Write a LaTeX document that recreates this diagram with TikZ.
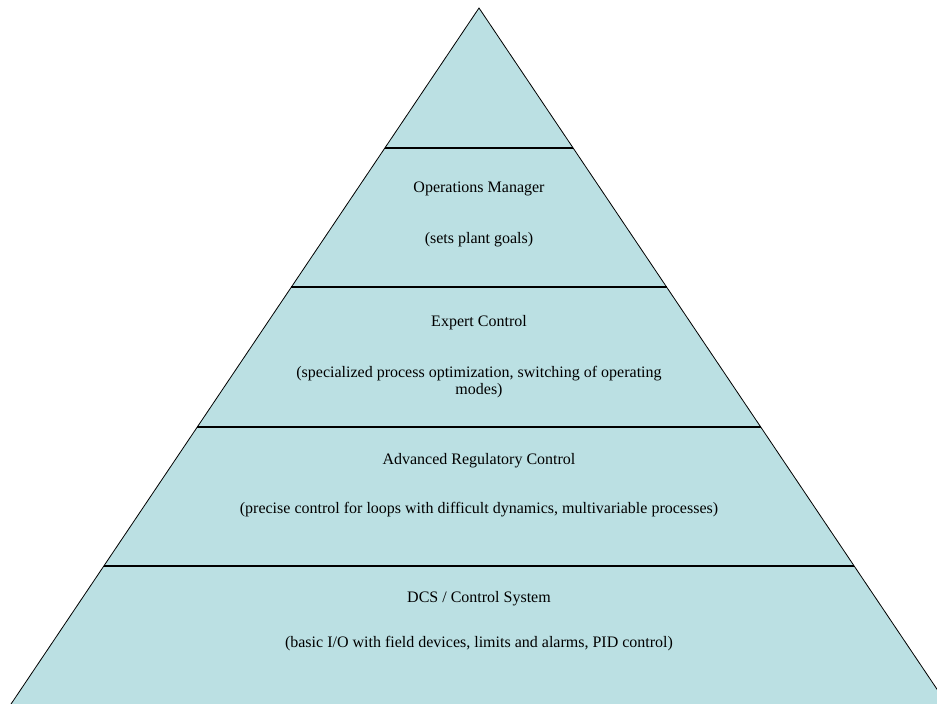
\documentclass[tikz,border=0pt]{standalone}
\usepackage{fontspec}
\setmainfont{Liberation Serif}
\usepackage{tikz}
\usetikzlibrary{calc}

\definecolor{layerfill}{RGB}{187,224,227}

\begin{document}
\begin{tikzpicture}[x=1pt, y=-1pt,
    every node/.style={font=\fontsize{16}{17}\selectfont, align=center, anchor=base}]
    \useasboundingbox (0, 0) rectangle (937, 704);
    \clip (0, 0) rectangle (937, 704);

    \coordinate (apex) at (479, 8);
    \coordinate (bl) at (9.7, 706);
    \coordinate (br) at (948.3, 706);
    \draw [fill=layerfill, line width=0.8pt] (apex) -- (bl) -- (br) -- cycle;

    % layer borders
    \foreach \t in {0.2, 0.4, 0.6, 0.8}
      \draw [line width=2pt] ($(apex)!\t!(bl)$) -- ($(apex)!\t!(br)$);

    \node (om) at (479, 192) {Operations Manager};
    \node (omd) at (479, 243) {(sets plant goals)};
    \node (ec) at (479, 326) {Expert Control};
    \node (ecd) at (479, 394) {(specialized process optimization, switching of operating\\ modes)};
    \node (arc) at (479, 464) {Advanced Regulatory Control};
    \node (arcd) at (479, 513) {(precise control for loops with difficult dynamics, multivariable processes)};
    \node (dcs) at (479, 602) {DCS / Control System};
    \node (dcsd) at (479, 647) {(basic I/O with field devices, limits and alarms, PID control)};
  \end{tikzpicture}
\end{document}
